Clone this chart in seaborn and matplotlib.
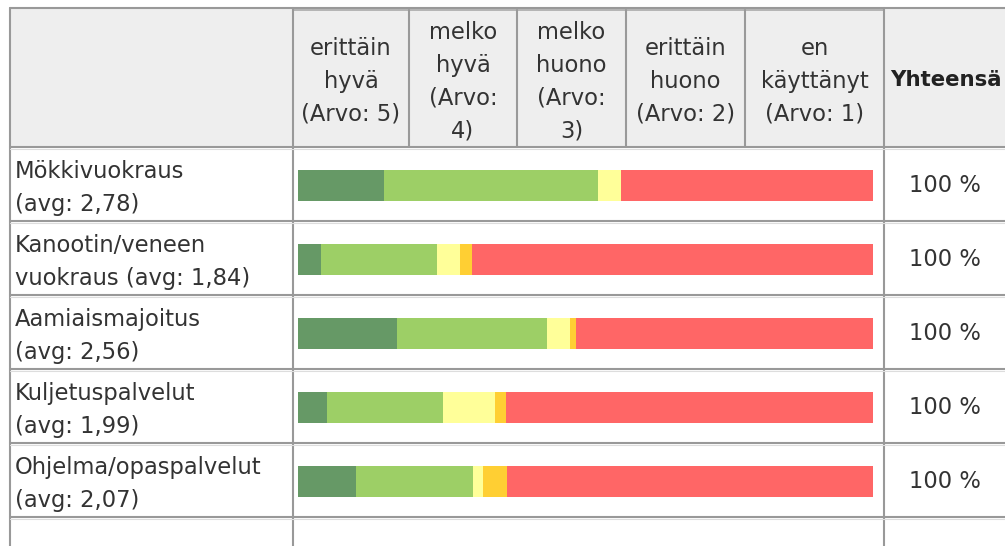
import matplotlib
matplotlib.use("Agg")
import matplotlib.pyplot as plt
import seaborn as sns
import pandas as pd
import numpy as np

# Rows of the rating table
services = ["Mökkivuokraus", "Kanootin/veneen vuokraus", "Aamiaismajoitus",
            "Kuljetuspalvelut", "Ohjelma/opaspalvelut"]
row_labels = ["Mökkivuokraus\n(avg: 2,78)",
              "Kanootin/veneen\nvuokraus (avg: 1,84)",
              "Aamiaismajoitus\n(avg: 2,56)",
              "Kuljetuspalvelut\n(avg: 1,99)",
              "Ohjelma/opaspalvelut\n(avg: 2,07)"]

# Column headers (rating scale)
scale_labels = ["erittäin\nhyvä\n(Arvo: 5)",
                "melko\nhyvä\n(Arvo:\n4)",
                "melko\nhuono\n(Arvo:\n3)",
                "erittäin\nhuono\n(Arvo: 2)",
                "en\nkäyttänyt\n(Arvo: 1)"]
total_header = "Yhteensä"
total_labels = ["100 %", "100 %", "100 %", "100 %", "100 %"]

# Share of answers (%) per rating value
share_5 = [15.0, 4.0, 17.2, 5.0, 10.1]
share_4 = [37.2, 20.2, 26.1, 20.2, 20.3]
share_3 = [4.0, 4.0, 4.0, 9.1, 1.8]
share_2 = [0.0, 2.1, 1.1, 1.9, 4.1]
share_1 = [43.8, 69.7, 51.6, 63.8, 63.7]

colors = ["#669966", "#9dcf66", "#ffff99", "#ffcf33", "#ff6666"]

W, H = 1005, 546
sns.set_theme(style="white")
plt.rcParams["font.family"] = ["DejaVu Sans"]
TXT = "#333333"
LINE = "#999999"
FS = 16.3
LS = 1.55

fig = plt.figure(figsize=(W / 100, H / 100), dpi=100)
ax = fig.add_axes([0, 0, 1, 1])
ax.set_xlim(0, W)
ax.set_ylim(H, 0)
ax.axis("off")

# table geometry (pixels)
x_left, x_bars, x_tot = 10, 293, 884
hdr_cols = [293, 409, 517, 626, 745, 884]
y_top, y_hdr = 8, 147
row_h = 74
row_edges = [y_hdr + i * row_h for i in range(len(services) + 1)]

# header background
ax.add_patch(plt.Rectangle((x_left, y_top), W - x_left, y_hdr - y_top,
                           facecolor="#eeeeee", edgecolor="none", zorder=0))

lw = 1.5
ax.plot([x_left, W], [y_top, y_top], color=LINE, lw=lw)
ax.plot([x_bars, x_tot], [10, 10], color="#aaaaaa", lw=1.2)
for x in [x_left, x_bars, x_tot]:
    ax.plot([x, x], [y_top, H], color=LINE, lw=lw)
for x in hdr_cols[1:-1]:
    ax.plot([x, x], [10, y_hdr], color=LINE, lw=lw)
for y in row_edges:
    ax.plot([x_left, W], [y, y], color=LINE, lw=lw, zorder=3)
    ax.plot([x_left, W], [y + 2, y + 2], color="#dddddd", lw=0.8, zorder=2)

# header labels
for i, lab in enumerate(scale_labels):
    cx = (hdr_cols[i] + hdr_cols[i + 1]) / 2
    ax.text(cx, 81.5, lab, ha="center", va="center", fontsize=FS,
            color=TXT, linespacing=LS)
ax.text(890, 80, total_header, ha="left", va="center", fontsize=15.3,
        color="#222222", fontweight="bold")

# row labels and totals
for i, lab in enumerate(row_labels):
    cy = row_edges[i] + row_h / 2
    ax.text(15, cy + 4, lab, ha="left", va="center", fontsize=FS,
            color=TXT, linespacing=LS)
    ax.text(945, cy + 1.5, total_labels[i], ha="center", va="center",
            fontsize=FS, color=TXT)

# stacked bars: draw cumulative totals from widest to narrowest
shares = np.array([share_5, share_4, share_3, share_2, share_1])
cum = np.cumsum(shares, axis=0)
bx0, bx1 = 298, 872.5
bax = fig.add_axes([bx0 / W, (H - row_edges[-1] - 1.5) / H,
                    (bx1 - bx0) / W, (row_edges[-1] - row_edges[0]) / H])
for k in range(len(colors) - 1, -1, -1):
    df = pd.DataFrame({"service": services, "value": cum[k]})
    sns.barplot(data=df, x="value", y="service", orient="h",
                color=colors[k], saturation=1, width=31 / row_h,
                ax=bax, linewidth=0)
bax.set_xlim(0, 100)
bax.set_ylim(len(services) - 0.5, -0.5)
bax.axis("off")
bax.patch.set_alpha(0)

fig.savefig("out.png", dpi=100)
